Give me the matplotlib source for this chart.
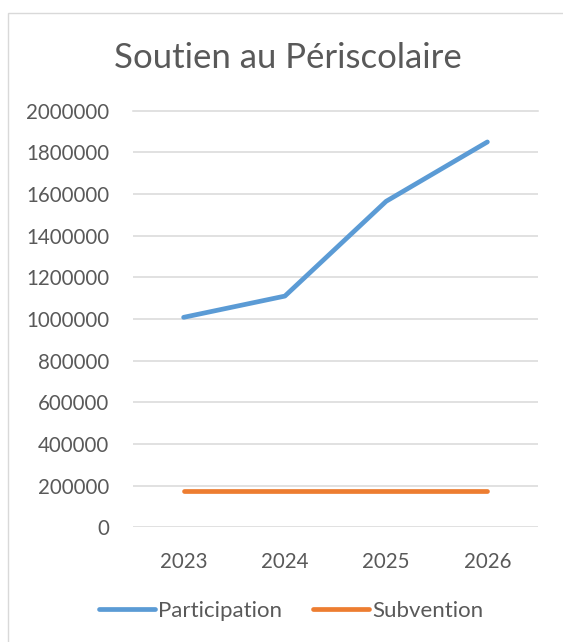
import matplotlib
matplotlib.use("Agg")
import matplotlib.pyplot as plt
from matplotlib.patches import Rectangle

years = ["2023", "2024", "2025", "2026"]
participation = [1008000, 1110000, 1565000, 1850000]
subvention = [172000, 172000, 172000, 172000]
yticks = [0, 200000, 400000, 600000, 800000, 1000000, 1200000, 1400000, 1600000, 1800000, 2000000]
title = "Soutien au Périscolaire"

plt.rcParams['font.family'] = ['Lato', 'DejaVu Sans']
txt = '#595959'

fig = plt.figure(figsize=(5.63, 6.42), dpi=100)
fig.patch.set_facecolor('white')
fig.patches.append(Rectangle((8/563, -0.05), 1.2, 1 - 13/642 + 0.05, transform=fig.transFigure,
                             fill=False, edgecolor='#D9D9D9', lw=1.0))

ax = fig.add_axes([133/563, 1 - 527.3/642, (538 - 133)/563, (527.3 - 110.7)/642])
x = list(range(len(years)))
ax.plot(x, participation, color='#5B9BD5', lw=3.4, solid_capstyle='round', solid_joinstyle='round', label='Participation', zorder=3)
ax.plot(x, subvention, color='#ED7D31', lw=3.4, solid_capstyle='round', solid_joinstyle='round', label='Subvention', zorder=3)
ax.set_xlim(-0.5, len(years) - 0.5)
ax.set_ylim(0, 2000000)
ax.set_yticks(yticks)
ax.set_yticklabels([str(v) for v in yticks])
ax.set_xticks(x)
ax.set_xticklabels(years)
ax.yaxis.grid(True, color='#D9D9D9', lw=1.1)
ax.set_axisbelow(True)
for s in ax.spines.values():
    s.set_visible(False)
ax.tick_params(axis='both', length=0, labelsize=14.8, labelcolor=txt)
ax.tick_params(axis='y', pad=17)
ax.tick_params(axis='x', pad=17.5)
for lab in ax.get_yticklabels() + ax.get_xticklabels():
    lab.set_clip_on(False)
ax.yaxis.get_gridlines()[-1].set_clip_on(False)

fig.text(288/563, 1 - 58/642, title, ha='center', va='center', fontsize=25, color=txt)

fig.legend(loc='center', bbox_to_anchor=(291/563, 1 - 611/642), ncol=2, frameon=False,
           fontsize=16, labelcolor=txt, handlelength=2.52, handletextpad=0.16, columnspacing=1.36)

fig.savefig('out.png', dpi=100)
